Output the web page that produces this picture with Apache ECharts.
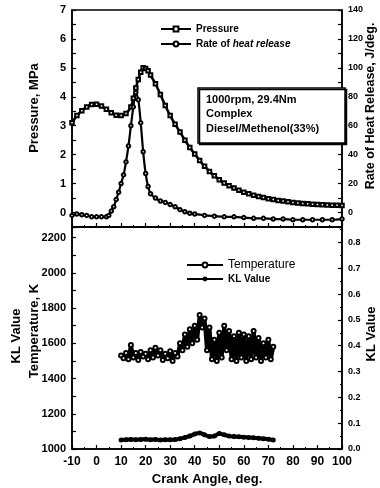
<!DOCTYPE html>
<html>
<head>
<meta charset="utf-8">
<script src="https://cdn.jsdelivr.net/npm/echarts@6/dist/echarts.min.js"></script>
<style>
  html, body { margin: 0; padding: 0; background: #fff; }
  #chart { width: 380px; height: 488px; }
</style>
</head>
<body>
<div id="chart"></div>
<script>
// upper panel: pressure (MPa) and rate of heat release (J/deg)
const angleP = [-10, -8, -6, -4, -2, 0, 2, 4, 6, 8, 10, 12, 14, 15, 16, 17, 18, 19, 20, 21, 22,
    24, 26, 28, 30, 32, 34, 36, 38, 40, 42, 44, 46, 48, 50, 52, 54, 56, 58, 60, 62,
    64, 66, 68, 70, 72, 74, 76, 78, 80, 82, 84, 86, 88, 90, 92, 94, 96, 98, 100]
const pressure = [3.1, 3.35, 3.52, 3.65, 3.73, 3.74, 3.68, 3.57, 3.45, 3.36, 3.35, 3.42, 3.65, 3.95, 4.3, 4.6, 4.85, 5.0, 4.98, 4.9, 4.75,
    4.45, 4.08, 3.7, 3.35, 3.05, 2.78, 2.5, 2.25, 2.02, 1.8, 1.6, 1.42, 1.27, 1.13, 1.02, 0.93, 0.85, 0.77, 0.7, 0.65,
    0.6, 0.55, 0.52, 0.48, 0.45, 0.42, 0.4, 0.37, 0.35, 0.33, 0.31, 0.3, 0.29, 0.28, 0.27, 0.26, 0.25, 0.25, 0.24]

const angleHR = [-10, -8, -6, -4, -2, 0, 2, 4, 5, 6, 7, 8, 9, 10, 11, 12, 13, 14, 15, 16, 17, 18, 19, 20, 21, 22,
    24, 26, 28, 30, 32, 34, 36, 38, 40, 44, 48, 52, 56, 60, 64, 68, 72, 76, 80, 84, 88, 92, 96, 100]
const heatRelease = [-2, -1, -1.5, -2, -3, -3, -3, -3, -2, 1, 4, 9, 14, 20, 26, 35, 46, 60, 73, 83, 78, 62, 42, 27, 18, 13,
    10, 8, 7, 5.5, 4, 2, 0.5, -0.5, -1, -2, -2.5, -3, -3, -3.5, -4, -4, -4.5, -4.5, -5, -5, -5, -5, -5, -4.5]

// lower panel: temperature (K) and KL value
const angleT = [10, 11, 12, 13, 14, 15, 16, 17, 18, 19, 20, 21, 22, 23, 24, 25, 26, 27, 28, 29, 30, 31, 32, 33, 34, 35,
    36, 37, 38, 39, 40, 41, 42, 43, 44, 45, 46, 47, 48, 49, 50, 51, 52, 53, 54, 55, 56, 57, 58, 59, 60,
    61, 62, 63, 64, 65, 66, 67, 68, 69, 70, 71, 72]
const temperature = [1530, 1515, 1545, 1510, 1590, 1520, 1545, 1505, 1550, 1525, 1540, 1510, 1560, 1520, 1575, 1530, 1560, 1505, 1540, 1515, 1555, 1500, 1545, 1525, 1600, 1560,
    1650, 1580, 1680, 1600, 1700, 1620, 1760, 1690, 1740, 1560, 1690, 1510, 1620, 1500, 1660, 1520, 1700, 1560, 1670, 1510, 1640, 1500, 1660, 1520, 1650,
    1500, 1640, 1510, 1670, 1520, 1630, 1500, 1600, 1520, 1620, 1510, 1580]

const angleKL = [10, 12, 14, 16, 18, 20, 22, 24, 26, 28, 30, 32, 34, 36, 38, 40, 42, 44, 46, 48, 50,
    52, 54, 56, 58, 60, 62, 64, 66, 68, 70, 72]
const klValue = [0.035, 0.036, 0.037, 0.036, 0.037, 0.038, 0.036, 0.037, 0.035, 0.036, 0.036, 0.037, 0.04, 0.045, 0.05, 0.058, 0.062, 0.055, 0.048, 0.05, 0.06,
    0.055, 0.05, 0.048, 0.047, 0.046, 0.045, 0.044, 0.042, 0.04, 0.038, 0.035]

const pairs = (xs, ys) => xs.map((x, i) => [x, ys[i]])

const font = 'Liberation Sans'
const black = '#000'

const tickStyle = { show: true, inside: true, length: 4, lineStyle: { color: black, width: 1.2 } }
const lineStyle = { show: true, onZero: false, lineStyle: { color: black, width: 1.5 } }

const xAxisBase = {
    type: 'value',
    min: -10,
    max: 100,
    interval: 10,
    axisLine: lineStyle,
    axisTick: tickStyle,
    minorTick: { show: true, splitNumber: 2, length: 2, lineStyle: { color: black, width: 1 } },
    splitLine: { show: false }
}

const yLabel = (size, fmt) => ({
    color: black,
    fontSize: size,
    fontWeight: 'bold',
    fontFamily: font,
    margin: 6,
    formatter: fmt
})

const vText = (text, x, y, size) => ({
    type: 'text',
    x: x,
    y: y,
    rotation: Math.PI / 2,
    z: 50,
    style: {
        text: text,
        fill: black,
        fontSize: size,
        fontWeight: 'bold',
        fontFamily: font,
        align: 'center',
        verticalAlign: 'middle'
    }
})

const boxText = (text, y) => ({
    type: 'text',
    x: 206,
    y: y,
    z: 101,
    style: {
        text: text,
        fill: black,
        fontSize: 11,
        fontWeight: 'bold',
        fontFamily: font,
        verticalAlign: 'middle'
    }
})

const chart = echarts.init(document.getElementById('chart'))
chart.setOption({
    animation: false,
    backgroundColor: '#fff',
    textStyle: { fontFamily: font, color: black },
    grid: [
        { left: 72, top: 10, width: 270, height: 217, show: true, borderColor: black, borderWidth: 1.5 },
        { left: 72, top: 227, width: 270, height: 222, show: true, borderColor: black, borderWidth: 1.5 }
    ],
    xAxis: [
        Object.assign({}, xAxisBase, { gridIndex: 0, axisLabel: { show: false } }),
        Object.assign({}, xAxisBase, {
            gridIndex: 1,
            axisLabel: { color: black, fontSize: 12, fontWeight: 'bold', fontFamily: font, margin: 7 }
        })
    ],
    yAxis: [
        {
            type: 'value', gridIndex: 0, position: 'left',
            min: -0.5, max: 7, interval: 0.5,
            axisLine: lineStyle, axisTick: tickStyle, splitLine: { show: false },
            axisLabel: yLabel(11, v => Number.isInteger(v) ? String(v) : '')
        },
        {
            type: 'value', gridIndex: 0, position: 'right',
            min: -10, max: 140, interval: 10,
            axisLine: lineStyle, axisTick: tickStyle, splitLine: { show: false },
            axisLabel: yLabel(9, v => (Math.round(v) % 20 === 0) ? String(Math.round(v)) : '')
        },
        {
            type: 'value', gridIndex: 1, position: 'left',
            min: 1000, max: 2260, interval: 100,
            axisLine: lineStyle, axisTick: tickStyle, splitLine: { show: false },
            axisLabel: yLabel(11, v => (Math.round(v) % 200 === 0) ? String(Math.round(v)) : '')
        },
        {
            type: 'value', gridIndex: 1, position: 'right',
            min: 0, max: 0.86, interval: 0.1,
            axisLine: lineStyle, axisTick: tickStyle, splitLine: { show: false },
            minorTick: { show: true, splitNumber: 2, length: 2, lineStyle: { color: black, width: 1 } },
            axisLabel: yLabel(9, v => v > 0.85 ? '' : v.toFixed(1))
        }
    ],
    legend: [
        {
            left: 155, top: 19, orient: 'vertical',
            itemWidth: 30, itemHeight: 6, itemGap: 5,
            data: ['Pressure', 'Rate of heat release'],
            formatter: name => name === 'Pressure' ? '{b|Pressure}' : '{b|Rate of }{i|heat release}',
            textStyle: {
                color: black, fontSize: 10, fontWeight: 'bold', fontFamily: font,
                rich: {
                    b: { fontSize: 10, fontWeight: 'bold', fontFamily: font },
                    i: { fontSize: 10, fontWeight: 'bold', fontStyle: 'italic', fontFamily: font }
                }
            }
        },
        {
            left: 181, top: 254, orient: 'vertical',
            itemWidth: 36, itemHeight: 6, itemGap: 3,
            data: [
                { name: 'Temperature', textStyle: { fontSize: 12, fontWeight: 'normal' } },
                { name: 'KL Value', textStyle: { fontSize: 10, fontWeight: 'bold' } }
            ],
            textStyle: { color: black, fontFamily: font }
        }
    ],
    series: [
        {
            name: 'Pressure', type: 'line', xAxisIndex: 0, yAxisIndex: 0,
            data: pairs(angleP, pressure),
            smooth: 0.3,
            symbol: 'emptyRect', symbolSize: 3.5,
            lineStyle: { color: black, width: 2.6 },
            itemStyle: { color: black, borderWidth: 1.2 }
        },
        {
            name: 'Rate of heat release', type: 'line', xAxisIndex: 0, yAxisIndex: 1,
            data: pairs(angleHR, heatRelease),
            smooth: 0.3,
            symbol: 'emptyCircle', symbolSize: 3.5,
            lineStyle: { color: black, width: 2.2 },
            itemStyle: { color: black, borderWidth: 1.2 }
        },
        {
            name: 'Temperature', type: 'line', xAxisIndex: 1, yAxisIndex: 2,
            data: pairs(angleT, temperature),
            symbol: 'emptyCircle', symbolSize: 4,
            lineStyle: { color: black, width: 4 },
            itemStyle: { color: black, borderWidth: 2 }
        },
        {
            name: 'KL Value', type: 'line', xAxisIndex: 1, yAxisIndex: 3,
            data: pairs(angleKL, klValue),
            smooth: 0.3,
            symbol: 'circle', symbolSize: 5,
            lineStyle: { color: black, width: 4 },
            itemStyle: { color: black }
        }
    ],
    graphic: [
        vText('Pressure, MPa', 34, 108, 13),
        vText('Rate of Heat Release, J/deg.', 371, 106, 12.5),
        vText('KL Value', 16, 336, 13),
        vText('Temperature, K', 34, 331, 13),
        vText('KL Value', 371, 334, 13),
        {
            type: 'text', x: 207, y: 479, z: 50,
            style: {
                text: 'Crank Angle, deg.', fill: black, fontSize: 13, fontWeight: 'bold',
                fontFamily: font, align: 'center', verticalAlign: 'middle'
            }
        },
        {
            type: 'rect', z: 100,
            shape: { x: 198, y: 88, width: 147, height: 55 },
            style: {
                fill: '#fff', stroke: black, lineWidth: 1.5,
                shadowColor: black, shadowOffsetX: 1.5, shadowOffsetY: 1.5, shadowBlur: 0
            }
        },
        boxText('1000rpm, 29.4Nm', 100),
        boxText('Complex', 114),
        boxText('Diesel/Methenol(33%)', 129)
    ]
})
</script>
</body>
</html>
